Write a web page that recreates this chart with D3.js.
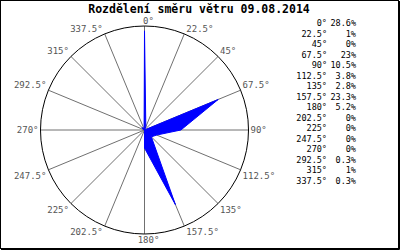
<!DOCTYPE html>
<html>
<head>
<meta charset="utf-8">
<script src="https://cdn.jsdelivr.net/npm/d3@7"></script>
<style>
  html, body { margin: 0; padding: 0; background: #fff; }
</style>
</head>
<body>
<div id="chart"></div>
<script>
// Wind direction distribution for one day, 16 compass sectors.

const title = "Rozdělení směru větru 09.08.2014";

const directions = [0, 22.5, 45, 67.5, 90, 112.5, 135, 157.5, 180, 202.5, 225, 247.5, 270, 292.5, 315, 337.5];
const dirLabels  = ["0°","22.5°","45°","67.5°","90°","112.5°","135°","157.5°","180°","202.5°","225°","247.5°","270°","292.5°","315°","337.5°"];
const shares     = [28.6, 1, 0, 23, 10.5, 3.8, 2.8, 23.3, 5.2, 0, 0, 0, 0, 0.3, 1, 0.3];
const shareLabels = ["28.6%","1%","0%","23%","10.5%","3.8%","2.8%","23.3%","5.2%","0%","0%","0%","0%","0.3%","1%","0.3%"];

const width  = 400;
const height = 250;
const cx = 144.5, cy = 130, R = 104;

const svg = d3.select("#chart")
  .append("svg")
  .attr("width", width)
  .attr("height", height)
  .style("display", "block");

svg.append("rect")
  .attr("width", width)
  .attr("height", height)
  .attr("fill", "#fff");

// frame
svg.append("rect")
  .attr("x", 0.5).attr("y", 0.5)
  .attr("width", width - 2).attr("height", height - 2)
  .attr("fill", "none")
  .attr("stroke", "#000");
svg.append("path")
  .attr("d", `M${width - 0.5},1V${height - 0.5}H1`)
  .attr("fill", "none")
  .attr("stroke", "#000");

svg.append("text")
  .attr("x", 199)
  .attr("y", 13)
  .attr("text-anchor", "middle")
  .attr("font-family", "DejaVu Sans Mono, monospace")
  .attr("font-weight", "bold")
  .attr("font-size", "11.5px")
  .attr("fill", "#000")
  .text(title);

const rScale = d3.scaleLinear().domain([0, 30]).range([0, R]);
const toRad  = d => d * Math.PI / 180;

const rose = svg.append("g").attr("transform", `translate(${cx},${cy})`);

// spokes
rose.selectAll("line.spoke")
  .data(directions)
  .join("line")
  .attr("class", "spoke")
  .attr("x1", 0).attr("y1", 0)
  .attr("x2", d => R * Math.sin(toRad(d)))
  .attr("y2", d => -R * Math.cos(toRad(d)))
  .attr("stroke", "#707070")
  .attr("stroke-width", 1);

rose.append("circle")
  .attr("r", R)
  .attr("fill", "none")
  .attr("stroke", "#000")
  .attr("stroke-width", 1);

// direction labels around the circle
rose.selectAll("text.dir")
  .data(directions)
  .join("text")
  .attr("class", "dir")
  .attr("x", d => {
    const s = Math.sin(toRad(d));
    return R * s + (s > 0.1 ? 2 : s < -0.1 ? -2 : 4);
  })
  .attr("y", d => {
    const c = Math.cos(toRad(d));
    return -R * c + (c > 0.3 ? -2 : c < -0.3 ? 9 : 3);
  })
  .attr("text-anchor", d => {
    const s = Math.sin(toRad(d));
    return s > 0.1 ? "start" : s < -0.1 ? "end" : "middle";
  })
  .attr("font-family", "DejaVu Sans Mono, monospace")
  .attr("font-size", "9px")
  .attr("fill", "#555")
  .text((d, i) => dirLabels[i]);

// distribution polygon
const radial = d3.lineRadial()
  .angle((v, i) => toRad(directions[i]))
  .radius(v => rScale(v))
  .curve(d3.curveLinearClosed);

rose.append("path")
  .datum(shares)
  .attr("d", radial)
  .attr("fill", "#0000ff")
  .attr("stroke", "#0000ff")
  .attr("stroke-width", 1)
  .attr("stroke-linejoin", "miter");

// table on the right
const legend = svg.append("g")
  .attr("font-family", "DejaVu Sans Mono, monospace")
  .attr("font-size", "8.5px")
  .attr("fill", "#000");

const rowY = d3.scaleLinear().domain([0, 15]).range([26, 183.5]);

legend.selectAll("text.ang")
  .data(dirLabels)
  .join("text")
  .attr("class", "ang")
  .attr("x", 327)
  .attr("y", (d, i) => rowY(i))
  .attr("text-anchor", "end")
  .text(d => d);

legend.selectAll("text.pct")
  .data(shareLabels)
  .join("text")
  .attr("class", "pct")
  .attr("x", 356)
  .attr("y", (d, i) => rowY(i))
  .attr("text-anchor", "end")
  .text(d => d);
</script>
</body>
</html>
